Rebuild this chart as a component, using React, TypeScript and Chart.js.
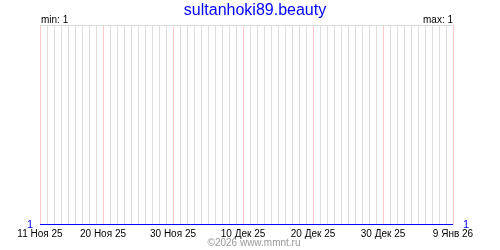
import React, { useEffect, useRef } from "react";
import { Chart, registerables } from "chart.js";

Chart.register(...registerables);

const TITLE = "sultanhoki89.beauty";
const FOOTER = "©2026 www.mmnt.ru";
const MIN_LABEL = "min: 1";
const MAX_LABEL = "max: 1";

const DAYS: string[] = [
  "11 Ноя 25", "12 Ноя 25", "13 Ноя 25", "14 Ноя 25", "15 Ноя 25", "16 Ноя 25", "17 Ноя 25", "18 Ноя 25", "19 Ноя 25", "20 Ноя 25",
  "21 Ноя 25", "22 Ноя 25", "23 Ноя 25", "24 Ноя 25", "25 Ноя 25", "26 Ноя 25", "27 Ноя 25", "28 Ноя 25", "29 Ноя 25", "30 Ноя 25",
  "1 Дек 25", "2 Дек 25", "3 Дек 25", "4 Дек 25", "5 Дек 25", "6 Дек 25", "7 Дек 25", "8 Дек 25", "9 Дек 25", "10 Дек 25",
  "11 Дек 25", "12 Дек 25", "13 Дек 25", "14 Дек 25", "15 Дек 25", "16 Дек 25", "17 Дек 25", "18 Дек 25", "19 Дек 25", "20 Дек 25",
  "21 Дек 25", "22 Дек 25", "23 Дек 25", "24 Дек 25", "25 Дек 25", "26 Дек 25", "27 Дек 25", "28 Дек 25", "29 Дек 25", "30 Дек 25",
  "31 Дек 25", "1 Янв 26", "2 Янв 26", "3 Янв 26", "4 Янв 26", "5 Янв 26", "6 Янв 26", "7 Янв 26", "8 Янв 26", "9 Янв 26",
];

const VALUES: number[] = [
  1, 1, 1, 1, 1, 1, 1, 1, 1, 1,
  1, 1, 1, 1, 1, 1, 1, 1, 1, 1,
  1, 1, 1, 1, 1, 1, 1, 1, 1, 1,
  1, 1, 1, 1, 1, 1, 1, 1, 1, 1,
  1, 1, 1, 1, 1, 1, 1, 1, 1, 1,
  1, 1, 1, 1, 1, 1, 1, 1, 1, 1,
];

const MAJOR_TICKS: string[] = ["11 Ноя 25", "20 Ноя 25", "30 Ноя 25", "10 Дек 25", "20 Дек 25", "30 Дек 25", "9 Янв 26"];

const Y_MIN = 1;
const Y_MAX = 2;

const FONT = "Liberation Sans";

const textPlugin = {
  id: "texts",
  afterDraw(chart: any) {
    const ctx = chart.ctx;
    const a = chart.chartArea;
    ctx.save();
    ctx.textBaseline = "alphabetic";
    ctx.font = `16px "${FONT}"`;
    ctx.fillStyle = "#0000ff";
    ctx.textAlign = "center";
    ctx.fillText(TITLE, 255, 15);
    ctx.font = `10px "${FONT}"`;
    ctx.fillStyle = "#000000";
    ctx.textAlign = "left";
    ctx.fillText(MIN_LABEL, a.left + 1, 23);
    ctx.textAlign = "right";
    ctx.fillText(MAX_LABEL, a.right, 23);
    ctx.fillStyle = "#999999";
    ctx.textAlign = "center";
    ctx.fillText(FOOTER, 254, 246);
    ctx.restore();
  },
};

export default function App() {
  const ref = useRef<HTMLCanvasElement>(null);
  useEffect(() => {
    if (!ref.current) return;
    const chart = new Chart(ref.current, {
      type: "line",
      data: {
        labels: DAYS,
        datasets: [
          {
            data: VALUES,
            borderColor: "#0000ff",
            borderWidth: 2,
            pointRadius: 0,
            fill: false,
            tension: 0,
            yAxisID: "y",
          },
        ],
      },
      options: {
        responsive: false,
        animation: false,
        layout: { padding: { top: 25, left: 0, right: 0, bottom: 0 } },
        plugins: { legend: { display: false }, tooltip: { enabled: false }, title: { display: false } },
        scales: {
          x: {
            type: "category",
            offset: false,
            border: { display: false },
            grid: {
              drawTicks: false,
              lineWidth: 1,
              color: (c: any) =>
                MAJOR_TICKS.includes(DAYS[c.index]) ? "rgb(255,200,200)" : "rgb(221,221,221)",
            },
            ticks: {
              autoSkip: false,
              maxRotation: 0,
              minRotation: 0,
              padding: 3,
              color: "#000000",
              font: { family: FONT, size: 10 },
              callback: (_v: any, i: number) => (MAJOR_TICKS.includes(DAYS[i]) ? DAYS[i] : ""),
            },
            afterFit: (s: any) => {
              s.height = 25;
            },
          },
          y: {
            position: "left",
            min: Y_MIN,
            max: Y_MAX,
            border: { display: false },
            afterBuildTicks: (s: any) => {
              s.ticks = [{ value: Y_MIN }, { value: Y_MAX }];
            },
            grid: {
              drawTicks: false,
              color: (c: any) => (c.tick && c.tick.value === Y_MAX ? "rgb(221,221,221)" : "rgba(0,0,0,0)"),
            },
            ticks: {
              padding: 7,
              color: "#0000ff",
              font: { family: FONT, size: 11 },
              callback: (v: any) => (v === Y_MIN ? "1" : ""),
            },
            afterFit: (s: any) => {
              s.width = 40;
            },
          },
          y2: {
            position: "right",
            min: Y_MIN,
            max: Y_MAX,
            border: { display: false },
            afterBuildTicks: (s: any) => {
              s.ticks = [{ value: Y_MIN }, { value: Y_MAX }];
            },
            grid: { display: false, drawTicks: false },
            ticks: {
              padding: 10,
              color: "#0000ff",
              font: { family: FONT, size: 11 },
              callback: (v: any) => (v === Y_MIN ? "1" : ""),
            },
            afterFit: (s: any) => {
              s.width = 47;
            },
          },
        },
      },
      plugins: [textPlugin],
    });
    return () => chart.destroy();
  }, []);
  return (
    <div style={{ position: "absolute", left: 0, top: 0, width: 500, height: 250, background: "#fff" }}>
      <canvas ref={ref} width={500} height={250} style={{ display: "block" }} />
    </div>
  );
}
